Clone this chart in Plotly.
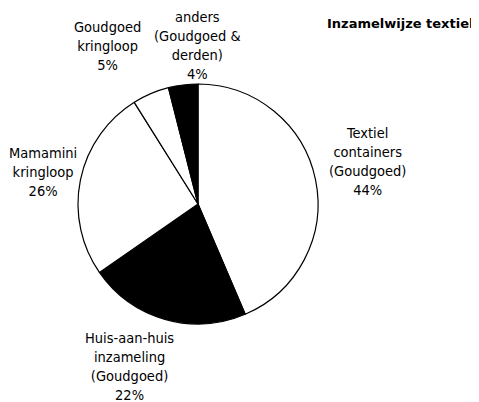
import plotly.graph_objects as go

labels = ["Textiel<br>containers<br>(Goudgoed)",
          "Huis-aan-huis<br>inzameling<br>(Goudgoed)",
          "Mamamini<br>kringloop",
          "Goudgoed<br>kringloop",
          "anders<br>(Goudgoed &<br>derden)"]
values = [44, 22, 26, 5, 4]
colors = ["white", "black", "white", "white", "black"]
title = "Inzamelwijze textiel"

# page body has an 8px margin; work in page pixels and convert
OFF = 8
W, H = 479 - OFF, 402 - OFF
# label anchor positions (page px)
label_pos = [(367, 161), (129, 366), (43, 172), (107, 46), (197, 45)]
cx, cy, r = 198 - OFF, 204 - OFF, 120

fig = go.Figure(go.Pie(
    values=values, labels=labels, sort=False, direction="clockwise", rotation=0,
    marker=dict(colors=colors, line=dict(color="black", width=1.2)),
    textinfo="none", hoverinfo="none",
    domain=dict(x=[(cx - r) / W, (cx + r) / W], y=[1 - (cy + r) / H, 1 - (cy - r) / H]),
))

font = dict(family="DejaVu Sans Condensed, Liberation Sans, sans-serif", size=14.5, color="black")
total = sum(values)
anns = []
for lab, v, (x, y) in zip(labels, values, label_pos):
    anns.append(dict(text=f"{lab}<br>{round(v / total * 100)}%", x=(x - OFF) / W, y=1 - (y - OFF) / H,
                     xref="paper", yref="paper", showarrow=False, font=font,
                     xanchor="center", yanchor="middle", align="center"))
anns.append(dict(text=f"<b>{title}</b>", x=(325 - OFF) / W, y=1 - (23 - OFF) / H, xref="paper", yref="paper",
                 showarrow=False, xanchor="left", yanchor="middle",
                 font=dict(family="DejaVu Sans, sans-serif", size=13, color="black")))

fig.update_layout(width=W, height=H, margin=dict(l=0, r=0, t=0, b=0),
                  paper_bgcolor="white", plot_bgcolor="white", showlegend=False,
                  annotations=anns)
fig.write_html("out.html")
